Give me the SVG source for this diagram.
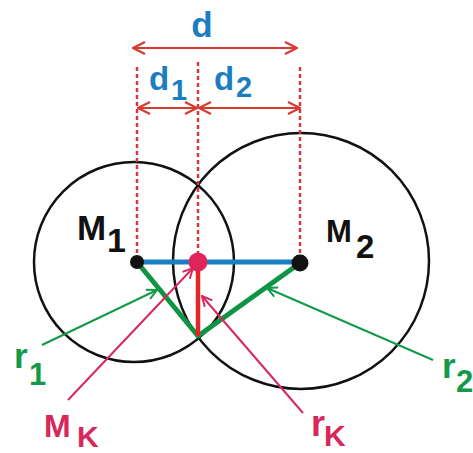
<svg xmlns="http://www.w3.org/2000/svg" width="473" height="453" viewBox="0 0 473 453">
<style>
.circ{fill:none;stroke:#111;stroke-width:2.5}
.dash{stroke:#d23a3a;stroke-width:2.5;stroke-dasharray:4 3;fill:none}
.dim{stroke:#d93a30;stroke-width:2.2;fill:none}
.lbl{font-family:"Liberation Sans",Arial,sans-serif;font-weight:bold}
.blue{fill:#1b7dc2}
.blk{fill:#111}
.grn{fill:#129a48}
.pnk{fill:#d8275a}
.ptrG{stroke:#129a48;stroke-width:2;fill:none}
.ptrP{stroke:#d8275a;stroke-width:2;fill:none}
</style>
<defs>
<marker id="arrR" viewBox="0 0 14 14" refX="13" refY="7" markerWidth="14" markerHeight="14" markerUnits="userSpaceOnUse" orient="auto-start-reverse">
<path d="M1,1 L13,7 L1,13" fill="none" stroke="#d93a30" stroke-width="2.2"/>
</marker>
<marker id="arrG" viewBox="0 0 12 12" refX="11" refY="6" markerWidth="12" markerHeight="12" markerUnits="userSpaceOnUse" orient="auto">
<path d="M1,1 L11,6 L1,11" fill="none" stroke="#129a48" stroke-width="2"/>
</marker>
<marker id="arrP" viewBox="0 0 12 12" refX="11" refY="6" markerWidth="12" markerHeight="12" markerUnits="userSpaceOnUse" orient="auto">
<path d="M1,1 L11,6 L1,11" fill="none" stroke="#d8275a" stroke-width="2"/>
</marker>
</defs>
<rect width="473" height="453" fill="#fff"/>
<g id="circle1"><circle class="circ" cx="134" cy="262" r="100"/></g>
<g id="circle2"><circle class="circ" cx="301" cy="261" r="128"/></g>
<g id="connectors">
<line class="dash" x1="137" y1="67" x2="137" y2="262"/>
<line class="dash" x1="198" y1="62" x2="198" y2="262"/>
<line class="dash" x1="300" y1="67" x2="300" y2="262"/>
<line class="dim" x1="133" y1="48" x2="297" y2="48" marker-start="url(#arrR)" marker-end="url(#arrR)"/>
<line class="dim" x1="138" y1="108" x2="197" y2="108" marker-start="url(#arrR)" marker-end="url(#arrR)"/>
<line class="dim" x1="199" y1="108" x2="300" y2="108" marker-start="url(#arrR)" marker-end="url(#arrR)"/>
<line x1="137" y1="262" x2="300" y2="262" stroke="#1b7dc2" stroke-width="5"/>
<polyline points="137,262 198,336 300,263" fill="none" stroke="#0f9445" stroke-width="5" stroke-linejoin="round"/>
<line x1="198" y1="262" x2="198" y2="336" stroke="#e0262a" stroke-width="4.5"/>
<line class="ptrG" x1="42" y1="345" x2="157" y2="290" marker-end="url(#arrG)"/>
<line class="ptrG" x1="433" y1="360" x2="267" y2="288" marker-end="url(#arrG)"/>
<line class="ptrP" x1="68" y1="400" x2="193" y2="268" marker-end="url(#arrP)"/>
<line class="ptrP" x1="303" y1="413" x2="202" y2="296" marker-end="url(#arrP)"/>
</g>
<g id="M1"><circle cx="137" cy="262" r="7" fill="#111"/></g>
<g id="M2"><circle cx="300" cy="263" r="8.5" fill="#111"/></g>
<g id="MK"><circle cx="198" cy="262" r="9.5" fill="#e0245a"/></g>
<g id="labels">
<text class="lbl blue" x="202" y="37" font-size="35" text-anchor="middle">d</text>
<text class="lbl blue" font-size="33"><tspan x="149" y="90">d</tspan><tspan x="171" y="100" font-size="29">1</tspan></text>
<text class="lbl blue" font-size="33"><tspan x="214" y="90">d</tspan><tspan x="236" y="97" font-size="29">2</tspan></text>
<text class="lbl blk" font-size="35"><tspan x="77" y="240">M</tspan><tspan x="107" y="252" font-size="34">1</tspan></text>
<text class="lbl blk" font-size="31"><tspan x="326" y="242">M</tspan><tspan x="356" y="258" font-size="33">2</tspan></text>
<text class="lbl grn" font-size="35"><tspan x="14" y="368">r</tspan><tspan x="29" y="385" font-size="31">1</tspan></text>
<text class="lbl grn" font-size="35"><tspan x="442" y="378">r</tspan><tspan x="456" y="392" font-size="31">2</tspan></text>
<text class="lbl pnk" font-size="32"><tspan x="44" y="437">M</tspan><tspan x="77" y="447" font-size="30">K</tspan></text>
<text class="lbl pnk" font-size="36"><tspan x="311" y="436">r</tspan><tspan x="324" y="446" font-size="30">K</tspan></text>
</g>
</svg>
